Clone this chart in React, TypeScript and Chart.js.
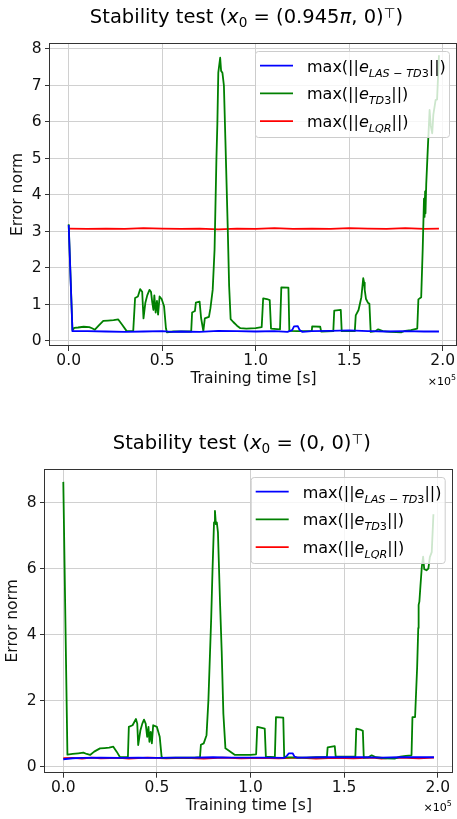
import React, { useEffect, useRef } from 'react';
import { Chart, registerables } from 'chart.js';

Chart.register(...registerables);

// ---------------- data (training time in units of 1e5 s) ----------------
const xTickValues = [0, 0.5, 1.0, 1.5, 2.0];
const yTicksTop = [0, 1, 2, 3, 4, 5, 6, 7, 8];
const yTicksBottom = [0, 2, 4, 6, 8];
const seriesSubscripts = ['LAS − TD3', 'TD3', 'LQR'];
const seriesColors = ['#0000ff', '#008000', '#ff0000'];
const xAxisTitle = 'Training time [s]';
const yAxisTitle = 'Error norm';
const offsetExponent = '5';

// top plot: x0 = (0.945π, 0)
const topLasX = [0, 0.02, 0.1, 0.2, 0.3, 0.4, 0.5, 0.55, 0.6, 0.7, 0.8, 0.9, 1.0, 1.1, 1.17, 1.195, 1.205, 1.225, 1.235, 1.25, 1.3, 1.4, 1.5, 1.6, 1.7, 1.8, 1.9, 1.98];
const topLasY = [3.18, 0.27, 0.27, 0.26, 0.25, 0.26, 0.27, 0.25, 0.26, 0.25, 0.28, 0.27, 0.26, 0.27, 0.25, 0.3, 0.4, 0.41, 0.3, 0.25, 0.27, 0.28, 0.29, 0.27, 0.26, 0.27, 0.26, 0.26];

const topTd3X = [0, 0.02, 0.03, 0.05, 0.08, 0.11, 0.125, 0.14, 0.16, 0.185, 0.21, 0.24, 0.265, 0.285, 0.31, 0.345, 0.355, 0.37, 0.382, 0.393, 0.4, 0.41, 0.42, 0.432, 0.44, 0.447, 0.453, 0.458, 0.465, 0.472, 0.478, 0.486, 0.497, 0.51, 0.52, 0.525, 0.56, 0.6, 0.655, 0.66, 0.675, 0.68, 0.7, 0.708, 0.72, 0.728, 0.75, 0.758, 0.77, 0.78, 0.79, 0.795, 0.8, 0.81, 0.815, 0.822, 0.83, 0.838, 0.842, 0.85, 0.858, 0.866, 0.88, 0.9, 0.918, 0.95, 1.0, 1.032, 1.04, 1.06, 1.075, 1.082, 1.13, 1.137, 1.175, 1.18, 1.22, 1.3, 1.302, 1.345, 1.35, 1.415, 1.42, 1.455, 1.46, 1.53, 1.535, 1.55, 1.565, 1.575, 1.58, 1.583, 1.59, 1.6, 1.608, 1.615, 1.64, 1.655, 1.68, 1.72, 1.78, 1.8, 1.83, 1.864, 1.87, 1.885, 1.893, 1.9, 1.903, 1.906, 1.908, 1.912, 1.92, 1.93, 1.936, 1.944, 1.95, 1.962, 1.97, 1.98];
const topTd3Y = [3.2, 0.3, 0.36, 0.37, 0.39, 0.38, 0.35, 0.31, 0.42, 0.55, 0.56, 0.57, 0.59, 0.45, 0.27, 0.27, 1.18, 1.22, 1.42, 1.35, 0.62, 1.05, 1.25, 1.4, 1.35, 1.05, 0.85, 1.25, 0.78, 1.1, 0.72, 1.22, 1.15, 0.95, 0.35, 0.24, 0.26, 0.26, 0.26, 0.78, 0.82, 1.05, 1.08, 0.63, 0.27, 0.62, 0.66, 0.9, 1.4, 2.5, 5.0, 5.96, 7.35, 7.76, 7.4, 7.35, 7.0, 5.5, 4.73, 3.2, 1.5, 0.6, 0.52, 0.42, 0.35, 0.34, 0.35, 0.38, 1.17, 1.15, 1.12, 0.34, 0.32, 1.47, 1.46, 0.28, 0.27, 0.27, 0.4, 0.39, 0.26, 0.27, 0.83, 0.85, 0.27, 0.27, 0.7, 0.85, 1.2, 1.72, 1.6, 1.4, 1.15, 1.05, 1.02, 0.25, 0.27, 0.32, 0.27, 0.25, 0.24, 0.28, 0.3, 0.34, 1.14, 1.2, 2.5, 3.9, 3.4, 4.1, 3.5, 4.3, 5.23, 6.33, 5.9, 5.69, 6.2, 6.6, 6.62, 7.83];

const topLqrX = [0, 0.1, 0.2, 0.3, 0.4, 0.5, 0.6, 0.7, 0.8, 0.9, 1.0, 1.1, 1.2, 1.3, 1.4, 1.5, 1.6, 1.7, 1.8, 1.9, 1.98];
const topLqrY = [3.08, 3.07, 3.08, 3.07, 3.09, 3.08, 3.07, 3.08, 3.06, 3.08, 3.07, 3.09, 3.07, 3.08, 3.07, 3.09, 3.08, 3.07, 3.09, 3.07, 3.08];

// bottom plot: x0 = (0, 0)
const botLasX = [0, 0.05, 0.1, 0.2, 0.3, 0.4, 0.5, 0.6, 0.7, 0.8, 0.9, 1.0, 1.1, 1.18, 1.195, 1.205, 1.225, 1.235, 1.25, 1.4, 1.5, 1.6, 1.7, 1.8, 1.9, 1.98];
const botLasY = [0.22, 0.25, 0.26, 0.27, 0.26, 0.27, 0.26, 0.27, 0.27, 0.28, 0.27, 0.27, 0.27, 0.26, 0.33, 0.4, 0.4, 0.3, 0.27, 0.28, 0.28, 0.28, 0.27, 0.28, 0.28, 0.28];

const botTd3X = [0, 0.022, 0.05, 0.08, 0.107, 0.125, 0.143, 0.165, 0.196, 0.22, 0.245, 0.267, 0.285, 0.303, 0.345, 0.35, 0.37, 0.388, 0.395, 0.4, 0.412, 0.422, 0.431, 0.44, 0.448, 0.455, 0.46, 0.467, 0.473, 0.48, 0.5, 0.515, 0.525, 0.53, 0.6, 0.7, 0.73, 0.735, 0.75, 0.765, 0.775, 0.79, 0.797, 0.805, 0.81, 0.815, 0.82, 0.826, 0.837, 0.846, 0.855, 0.866, 0.885, 0.917, 0.96, 1.0, 1.03, 1.036, 1.06, 1.076, 1.082, 1.13, 1.136, 1.175, 1.18, 1.25, 1.3, 1.35, 1.408, 1.412, 1.45, 1.455, 1.5, 1.56, 1.565, 1.585, 1.6, 1.605, 1.63, 1.647, 1.67, 1.72, 1.77, 1.8, 1.83, 1.86, 1.865, 1.879, 1.89, 1.896, 1.898, 1.902, 1.908, 1.915, 1.922, 1.928, 1.94, 1.95, 1.958, 1.968, 1.977];
const botTd3Y = [8.63, 0.36, 0.38, 0.4, 0.42, 0.38, 0.35, 0.45, 0.55, 0.56, 0.57, 0.6, 0.45, 0.28, 0.28, 1.2, 1.25, 1.44, 1.3, 0.65, 1.1, 1.3, 1.42, 1.3, 0.9, 1.2, 0.75, 1.05, 0.7, 1.25, 1.2, 0.9, 0.3, 0.26, 0.27, 0.27, 0.28, 0.66, 0.7, 0.95, 2.0, 4.5, 5.95, 7.4, 7.75, 7.35, 7.4, 7.1, 5.0, 3.5, 1.6, 0.55, 0.48, 0.35, 0.35, 0.35, 0.37, 1.2, 1.17, 1.15, 0.3, 0.28, 1.5, 1.48, 0.28, 0.27, 0.27, 0.28, 0.28, 0.58, 0.62, 0.3, 0.3, 0.3, 1.15, 1.12, 1.08, 0.27, 0.28, 0.34, 0.28, 0.25, 0.24, 0.3, 0.32, 0.34, 1.5, 1.5, 3.0, 4.2, 4.9, 5.0, 5.5, 6.05, 6.36, 5.98, 5.95, 6.0, 6.35, 6.5, 7.65];

const botLqrX = [0, 0.05, 0.1, 0.15, 0.2, 0.3, 0.35, 0.45, 0.55, 0.65, 0.75, 0.85, 0.95, 1.05, 1.15, 1.25, 1.35, 1.45, 1.55, 1.65, 1.7, 1.75, 1.8, 1.9, 1.98];
const botLqrY = [0.25, 0.26, 0.24, 0.27, 0.25, 0.26, 0.24, 0.27, 0.25, 0.26, 0.24, 0.27, 0.25, 0.26, 0.25, 0.27, 0.24, 0.26, 0.25, 0.27, 0.24, 0.26, 0.27, 0.25, 0.27];

// ---------------- rendering helpers ----------------
type Seg = { text: string; italic?: boolean; scale?: number; dy?: number };
const FAMILY = 'DejaVu Sans';

const titleTop: Seg[] = [
  { text: 'Stability test (' }, { text: 'x', italic: true }, { text: '0', scale: 0.7, dy: 0.2 },
  { text: ' = (0.945' }, { text: 'π', italic: true }, { text: ', 0)' },
  { text: '⊤', scale: 0.7, dy: -0.27 }, { text: ')' },
];
const titleBottom: Seg[] = [
  { text: 'Stability test (' }, { text: 'x', italic: true }, { text: '0', scale: 0.7, dy: 0.2 },
  { text: ' = (0, 0)' }, { text: '⊤', scale: 0.7, dy: -0.27 }, { text: ')' },
];

function fontStr(size: number, italic?: boolean) {
  return `${italic ? 'italic ' : ''}${size}px "${FAMILY}"`;
}

function drawRich(ctx: CanvasRenderingContext2D, segs: Seg[], x: number, y: number, base: number, align: 'left' | 'center' | 'right') {
  const widths = segs.map((s) => {
    ctx.font = fontStr(base * (s.scale || 1), s.italic);
    return ctx.measureText(s.text).width;
  });
  const total = widths.reduce((a, b) => a + b, 0);
  let cx = align === 'left' ? x : align === 'center' ? x - total / 2 : x - total;
  ctx.textAlign = 'left';
  ctx.textBaseline = 'alphabetic';
  segs.forEach((s, i) => {
    ctx.font = fontStr(base * (s.scale || 1), s.italic);
    ctx.fillText(s.text, cx, y + (s.dy || 0) * base);
    cx += widths[i];
  });
}

function legendSegs(sub: string): Seg[] {
  const segs: Seg[] = [{ text: 'max(||' }, { text: 'e', italic: true }];
  let cur: Seg | null = null;
  for (const ch of sub) {
    const it = /[A-Za-z]/.test(ch);
    if (!cur || !!cur.italic !== it) {
      cur = { text: ch, italic: it, scale: 0.7, dy: 0.3 };
      segs.push(cur);
    } else cur.text += ch;
  }
  segs.push({ text: '||)' });
  return segs;
}

type Spec = {
  title: Seg[];
  series: { x: number[]; y: number[] }[];
  yTicks: number[];
  xMin: number; xMax: number; yMin: number; yMax: number;
  padTop: number; padRight: number; yWidth: number; xHeight: number;
  yTitlePad: number; xTitlePad: number;
  canvasTop: number; height: number;
};

const overlayPlugin = (spec: Spec) => ({
  id: 'overlay',
  afterDatasetsDraw(chart: any) {
    const ctx: CanvasRenderingContext2D = chart.ctx;
    const ca = chart.chartArea;
    ctx.save();
    ctx.strokeStyle = '#333';
    ctx.lineWidth = 1;
    ctx.strokeRect(Math.round(ca.left) - 0.5, Math.round(ca.top) + 0.5, Math.round(ca.right) - Math.round(ca.left), Math.round(ca.bottom) - Math.round(ca.top) - 1);
    ctx.restore();
  },
  afterDraw(chart: any) {
    const ctx: CanvasRenderingContext2D = chart.ctx;
    const ca = chart.chartArea;
    ctx.save();
    ctx.fillStyle = '#000';
    drawRich(ctx, spec.title, (ca.left + ca.right) / 2 - 7, ca.top - 19.7, 19.5, 'center');
    drawRich(ctx, [{ text: '×10' }, { text: offsetExponent, scale: 0.72, dy: -0.45 }], ca.right - 1, ca.bottom + 38.5, 11, 'right');
    const lw = 194, lh = 86;
    const lx = ca.right - 8 - lw, ly = ca.top + 8;
    ctx.beginPath();
    (ctx as any).roundRect(lx + 0.5, ly + 0.5, lw, lh, 3);
    ctx.fillStyle = 'rgba(255,255,255,0.8)';
    ctx.fill();
    ctx.strokeStyle = '#cccccc';
    ctx.lineWidth = 1;
    ctx.stroke();
    seriesSubscripts.forEach((sub, i) => {
      const ry = ly + 14.7 + i * 27.7;
      ctx.beginPath();
      ctx.strokeStyle = seriesColors[i];
      ctx.lineWidth = 1.8;
      ctx.moveTo(lx + 5, ry);
      ctx.lineTo(lx + 38, ry);
      ctx.stroke();
      ctx.fillStyle = '#000';
      drawRich(ctx, legendSegs(sub), lx + 52, ry + 6, 16, 'left');
    });
    ctx.restore();
  },
});

function buildConfig(spec: Spec): any {
  const tickFont = { family: FAMILY, size: 15.5 };
  const labelFont = { family: FAMILY, size: 15.5 };
  return {
    type: 'line',
    data: {
      datasets: spec.series.map((s, i) => ({
        label: seriesSubscripts[i],
        data: s.x.map((x, j) => ({ x, y: s.y[j] })),
        borderColor: seriesColors[i],
        backgroundColor: seriesColors[i],
        borderWidth: 1.8,
        borderJoinStyle: 'round',
        pointRadius: 0,
        tension: 0,
        fill: false,
      })),
    },
    options: {
      animation: false,
      responsive: false,
      events: [],
      layout: { padding: { left: 0, right: spec.padRight, top: spec.padTop, bottom: 0 } },
      plugins: { legend: { display: false }, title: { display: false }, tooltip: { enabled: false } },
      scales: {
        x: {
          type: 'linear',
          min: spec.xMin,
          max: spec.xMax,
          afterBuildTicks: (s: any) => { s.ticks = xTickValues.map((v) => ({ value: v })); },
          afterFit: (s: any) => { s.height = spec.xHeight; },
          ticks: { font: tickFont, color: '#111', padding: 1, maxRotation: 0, autoSkip: false, callback: (v: any) => Number(v).toFixed(1) },
          grid: { color: '#d0d0d0', lineWidth: 1, tickLength: 5, tickColor: '#333', drawTicks: true },
          border: { display: false },
          title: { display: true, text: xAxisTitle, font: labelFont, color: '#111', padding: { top: 0, bottom: spec.xTitlePad } },
        },
        y: {
          type: 'linear',
          min: spec.yMin,
          max: spec.yMax,
          afterBuildTicks: (s: any) => { s.ticks = spec.yTicks.map((v) => ({ value: v })); },
          afterFit: (s: any) => { s.width = spec.yWidth; },
          ticks: { font: tickFont, color: '#111', padding: 3.3, autoSkip: false, callback: (v: any) => String(v) },
          grid: { color: '#d0d0d0', lineWidth: 1, tickLength: 5, tickColor: '#333', drawTicks: true },
          border: { display: false },
          title: { display: true, text: yAxisTitle, font: labelFont, color: '#111', padding: { top: spec.yTitlePad, bottom: 0 } },
        },
      },
    },
    plugins: [overlayPlugin(spec)],
  };
}

const topSpec: Spec = {
  title: titleTop,
  series: [{ x: topLasX, y: topLasY }, { x: topTd3X, y: topTd3Y }, { x: topLqrX, y: topLqrY }],
  yTicks: yTicksTop,
  xMin: -0.1, xMax: 2.0765, yMin: -0.137, yMax: 8.164,
  padTop: 43, padRight: 0, yWidth: 50, xHeight: 63,
  yTitlePad: 8.3, xTitlePad: 21,
  canvasTop: 0, height: 409,
};

const bottomSpec: Spec = {
  title: titleBottom,
  series: [{ x: botLasX, y: botLasY }, { x: botTd3X, y: botTd3Y }, { x: botLqrX, y: botLqrY }],
  yTicks: yTicksBottom,
  xMin: -0.0978, xMax: 2.08, yMin: -0.188, yMax: 9.02,
  padTop: 60, padRight: 4.3, yWidth: 45, xHeight: 46.3,
  yTitlePad: 3.2, xTitlePad: 4.2,
  canvasTop: 409, height: 410,
};

function StabilityPlot({ spec }: { spec: Spec }) {
  const ref = useRef<HTMLCanvasElement>(null);
  useEffect(() => {
    const chart = new Chart(ref.current as HTMLCanvasElement, buildConfig(spec));
    return () => chart.destroy();
  }, [spec]);
  return (
    <canvas
      ref={ref}
      width={457}
      height={spec.height}
      style={{ position: 'absolute', left: 0, top: spec.canvasTop, width: 457, height: spec.height }}
    />
  );
}

export default function App() {
  return (
    <div style={{ position: 'absolute', left: 0, top: 0, width: 457, height: 819, background: '#fff', overflow: 'hidden' }}>
      <StabilityPlot spec={topSpec} />
      <StabilityPlot spec={bottomSpec} />
    </div>
  );
}
